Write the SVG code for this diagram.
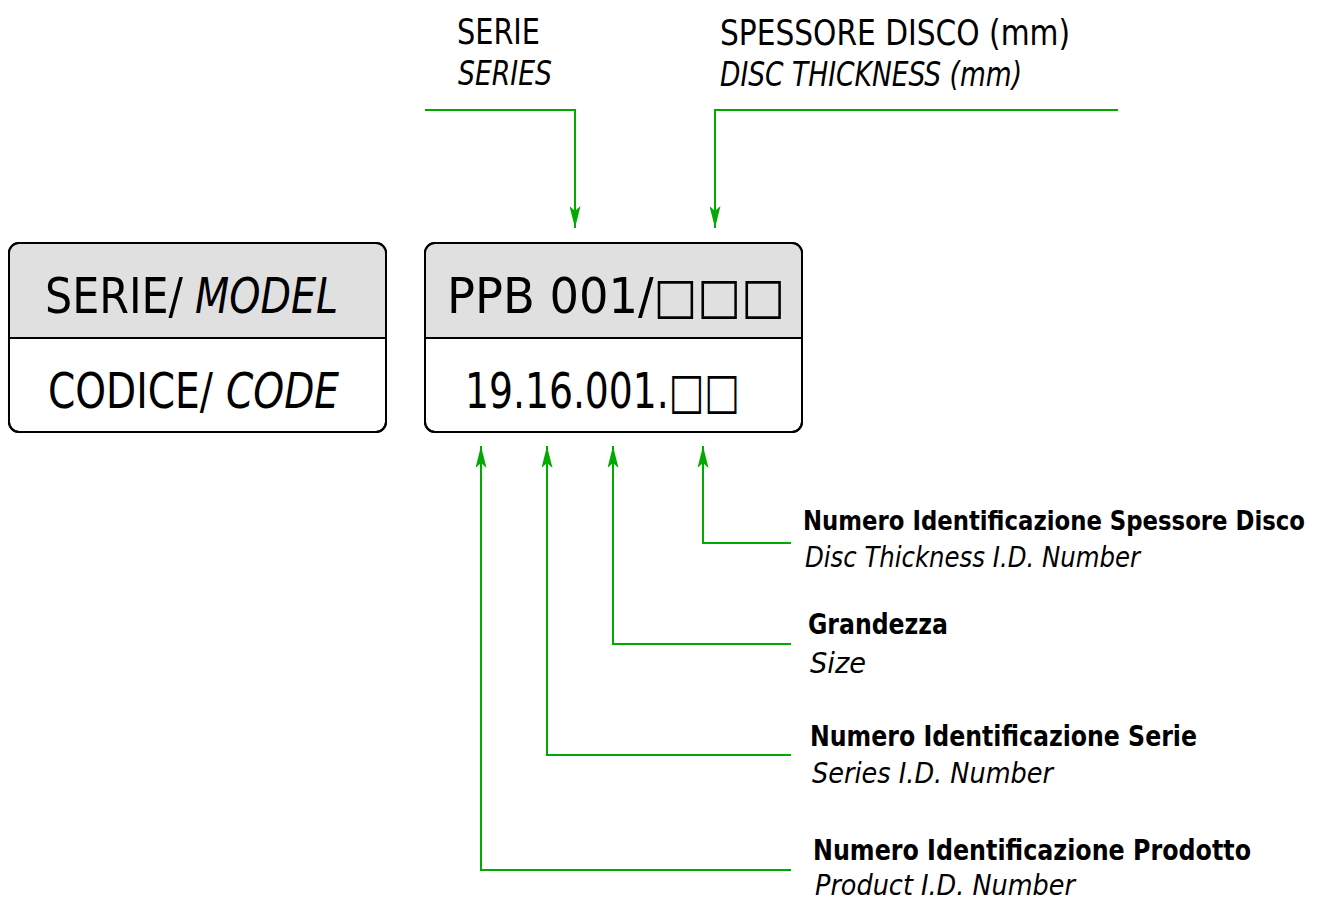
<svg xmlns="http://www.w3.org/2000/svg" width="1322" height="900" viewBox="0 0 1322 900">
<style>
text{font-family:"DejaVu Sans Condensed","DejaVu Sans",sans-serif;fill:#000;}
.it{font-style:italic;}
.b{font-weight:bold;}
.box{fill:#fff;stroke:#000;stroke-width:2;}
.hdr{fill:#e0e0e0;stroke:none;}
.div{stroke:#000;stroke-width:2;}
.conn{fill:none;stroke:#00aa00;stroke-width:2;}
</style>
<defs>
<marker id="ah" viewBox="0 0 22 11" refX="22" refY="5.5" markerWidth="22" markerHeight="11" markerUnits="userSpaceOnUse" orient="auto">
<path d="M0,0 L22,5.5 L0,11 L5,5.5 Z" fill="#00aa00"/>
</marker>
</defs>
<rect width="1322" height="900" fill="#fff"/>

<g id="node-legend">
<rect class="box" x="9" y="243" width="377" height="189" rx="10"/>
<path class="hdr" d="M19,244 H376 A9,9 0 0 1 385,253 V338 H10 V253 A9,9 0 0 1 19,244 Z"/>
<rect x="9" y="243" width="377" height="189" rx="10" fill="none" stroke="#000" stroke-width="2"/>
<line class="div" x1="9" y1="338" x2="386" y2="338"/>
<text x="45" y="313" font-size="50" textLength="138" lengthAdjust="spacingAndGlyphs">SERIE/</text>
<text class="it" x="195" y="313" font-size="50" textLength="143" lengthAdjust="spacingAndGlyphs">MODEL</text>
<text x="48" y="408" font-size="50" textLength="165" lengthAdjust="spacingAndGlyphs">CODICE/</text>
<text class="it" x="226" y="408" font-size="50" textLength="113" lengthAdjust="spacingAndGlyphs">CODE</text>
</g>

<g id="node-code">
<rect class="box" x="425" y="243" width="377" height="189" rx="10"/>
<path class="hdr" d="M435,244 H792 A9,9 0 0 1 801,253 V338 H426 V253 A9,9 0 0 1 435,244 Z"/>
<rect x="425" y="243" width="377" height="189" rx="10" fill="none" stroke="#000" stroke-width="2"/>
<line class="div" x1="425" y1="338" x2="802" y2="338"/>
<text x="447" y="313" font-size="50" textLength="338" lengthAdjust="spacingAndGlyphs">PPB 001/□□□</text>
<text x="465" y="408" font-size="50" textLength="275" lengthAdjust="spacingAndGlyphs">19.16.001.□□</text>
</g>

<g id="label-serie">
<text x="457" y="44" font-size="36" textLength="83" lengthAdjust="spacingAndGlyphs">SERIE</text>
<text class="it" x="458" y="85" font-size="34" textLength="94" lengthAdjust="spacingAndGlyphs">SERIES</text>
</g>
<g id="label-spessore">
<text x="720" y="45" font-size="36" textLength="350" lengthAdjust="spacingAndGlyphs">SPESSORE DISCO (mm)</text>
<text class="it" x="720" y="86" font-size="34" textLength="302" lengthAdjust="spacingAndGlyphs">DISC THICKNESS (mm)</text>
</g>
<g id="label-disco">
<text class="b" x="803" y="530" font-size="27" textLength="502" lengthAdjust="spacingAndGlyphs">Numero Identificazione Spessore Disco</text>
<text class="it" x="805" y="567" font-size="28" textLength="335" lengthAdjust="spacingAndGlyphs">Disc Thickness I.D. Number</text>
</g>
<g id="label-grandezza">
<text class="b" x="808" y="634" font-size="28" textLength="140" lengthAdjust="spacingAndGlyphs">Grandezza</text>
<text class="it" x="810" y="673" font-size="28" textLength="56" lengthAdjust="spacingAndGlyphs">Size</text>
</g>
<g id="label-serie-id">
<text class="b" x="810" y="746" font-size="28" textLength="387" lengthAdjust="spacingAndGlyphs">Numero Identificazione Serie</text>
<text class="it" x="812" y="783" font-size="28" textLength="241" lengthAdjust="spacingAndGlyphs">Series I.D. Number</text>
</g>
<g id="label-prodotto">
<text class="b" x="813" y="860" font-size="28" textLength="438" lengthAdjust="spacingAndGlyphs">Numero Identificazione Prodotto</text>
<text class="it" x="815" y="895" font-size="28" textLength="260" lengthAdjust="spacingAndGlyphs">Product I.D. Number</text>
</g>

<g id="connectors">
<polyline class="conn" points="425,110 575,110 575,228" marker-end="url(#ah)"/>
<polyline class="conn" points="1118,110 715,110 715,228" marker-end="url(#ah)"/>
<polyline class="conn" points="791,543 703,543 703,446" marker-end="url(#ah)"/>
<polyline class="conn" points="791,644 613,644 613,446" marker-end="url(#ah)"/>
<polyline class="conn" points="791,755 547,755 547,446" marker-end="url(#ah)"/>
<polyline class="conn" points="791,870 481,870 481,446" marker-end="url(#ah)"/>
</g>
</svg>
